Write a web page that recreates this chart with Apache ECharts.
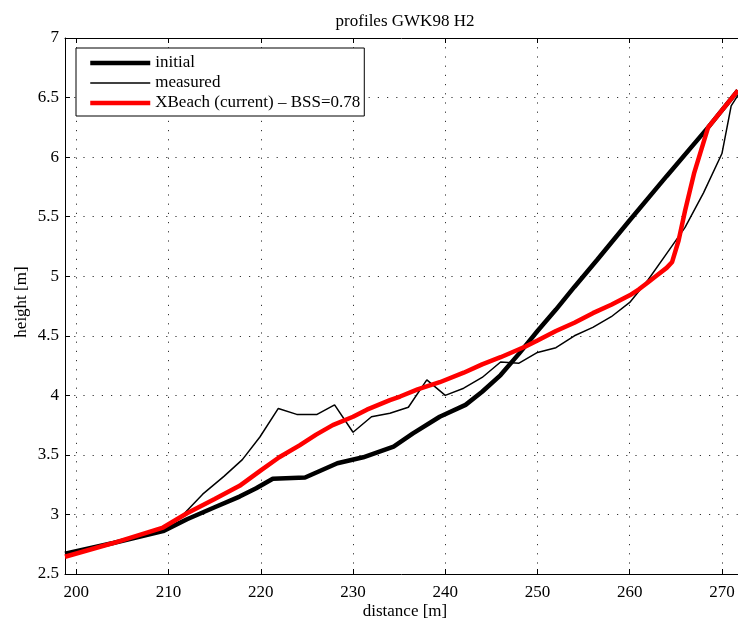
<!DOCTYPE html>
<html>
<head>
<meta charset="utf-8">
<script src="https://cdn.jsdelivr.net/npm/echarts@6/dist/echarts.min.js"></script>
<style>
  html, body { margin: 0; padding: 0; background: #fff; }
  #chart { width: 738px; height: 621px; }
</style>
</head>
<body>
<div id="chart"></div>
<script>
// Cross-shore profiles, GWK98 test H2
const seriesNames = ['initial', 'measured', 'XBeach (current) \u2013 BSS=0.78'];
const seriesWidths = [4.5, 1.5, 4.5];
const seriesColors = ['#000', '#000', '#ff0000'];
const xTitle = 'distance [m]';
const yTitle = 'height [m]';

const initialDist = [198.77, 204, 209.4, 212, 215, 217.7, 219.5, 221.3, 224.8, 228.3, 231.1, 234.4, 236.5, 239.4, 242.2, 244, 246, 248, 250, 252, 254, 256.5, 260, 264, 268.5, 271.74];
const initialHeight = [2.67, 2.76, 2.86, 2.96, 3.06, 3.15, 3.22, 3.30, 3.31, 3.43, 3.48, 3.57, 3.68, 3.82, 3.92, 4.03, 4.17, 4.35, 4.54, 4.72, 4.91, 5.14, 5.47, 5.84, 6.25, 6.56];

const measuredDist = [198.77, 204, 209.4, 211.6, 213.7, 216, 218, 219.9, 221.9, 223.9, 226.1, 228, 230, 232, 234, 236, 238, 240, 242, 244, 246, 248, 250, 252, 254, 256, 258, 260, 262, 264, 266, 268, 270, 271, 271.74];
const measuredHeight = [2.66, 2.76, 2.87, 3.00, 3.17, 3.32, 3.46, 3.65, 3.89, 3.84, 3.84, 3.92, 3.69, 3.82, 3.85, 3.90, 4.13, 4.00, 4.06, 4.15, 4.28, 4.27, 4.36, 4.40, 4.50, 4.57, 4.66, 4.78, 4.97, 5.19, 5.41, 5.70, 6.03, 6.43, 6.52];

const xbeachDist = [198.77, 204, 209.4, 212, 215, 217.7, 220, 222, 224.2, 226, 227.8, 230, 231.5, 234, 235.1, 237, 239.4, 242, 244, 246, 248.7, 250, 252, 254, 256, 258, 260, 261, 262, 263, 264, 264.6, 265.3, 266, 267, 268.5, 271.74];
const xbeachHeight = [2.645, 2.76, 2.89, 3.01, 3.13, 3.24, 3.37, 3.48, 3.58, 3.67, 3.75, 3.82, 3.88, 3.96, 3.99, 4.05, 4.11, 4.19, 4.26, 4.32, 4.41, 4.46, 4.54, 4.61, 4.69, 4.76, 4.84, 4.89, 4.95, 5.01, 5.07, 5.12, 5.30, 5.55, 5.87, 6.25, 6.56];

const xMin = 198.77, xMax = 271.74;
const yMin = 2.5, yMax = 7, yStep = 0.5;

const pairs = (xs, ys) => xs.map((x, i) => [x, ys[i]]);
const profiles = [pairs(initialDist, initialHeight), pairs(measuredDist, measuredHeight), pairs(xbeachDist, xbeachHeight)];

const serif = 'Liberation Serif';
const dotted = { color: '#333', width: 1, type: [1.2, 8] };
const nameFont = { fontFamily: serif, fontSize: 17, fill: '#000', align: 'center', verticalAlign: 'middle' };

const chart = echarts.init(document.getElementById('chart'), null, { renderer: 'canvas' });
chart.setOption({
  animation: false,
  backgroundColor: '#fff',
  title: {
    text: 'profiles GWK98 H2',
    left: 400, top: 8, textAlign: 'center',
    textStyle: { fontFamily: serif, fontSize: 17, fontWeight: 'normal', color: '#000' }
  },
  // axis titles
  graphic: [
    { type: 'text', x: 405, y: 612, style: Object.assign({ text: xTitle }, nameFont) },
    { type: 'text', x: 22, y: 302, rotation: Math.PI / 2, style: Object.assign({ text: yTitle }, nameFont) }
  ],
  legend: {
    data: seriesNames.map((name, i) => ({
      name,
      lineStyle: { width: seriesWidths[i], color: seriesColors[i] }
    })),
    orient: 'vertical',
    left: 76, top: 48,
    padding: [6.5, 4, 4.5, 12],
    itemWidth: 60, itemHeight: 17, itemGap: 3,
    borderColor: '#000', borderWidth: 1,
    backgroundColor: '#fff',
    itemStyle: { opacity: 0, borderWidth: 0 },
    textStyle: { fontFamily: serif, fontSize: 17, color: '#000' }
  },
  grid: { left: 65, top: 38, right: 0, bottom: 47, containLabel: false, outerBoundsMode: 'none' },
  xAxis: [{
    type: 'value', min: xMin, max: xMax, splitNumber: 7,
    axisLine: { show: true, lineStyle: { color: '#000', width: 1 } },
    axisTick: { show: true, inside: true, length: 5, lineStyle: { color: '#000' } },
    axisLabel: { showMinLabel: false, showMaxLabel: false, margin: 10, fontFamily: serif, fontSize: 17, color: '#000' },
    splitLine: { show: true, lineStyle: dotted }
  }, {
    type: 'value', min: xMin, max: xMax, splitNumber: 7, position: 'top',
    axisLine: { show: true, lineStyle: { color: '#000', width: 1 } },
    axisTick: { show: true, inside: true, length: 5, lineStyle: { color: '#000' } },
    axisLabel: { show: false },
    splitLine: { show: false }
  }],
  yAxis: {
    type: 'value', min: yMin, max: yMax, interval: yStep,
    axisLine: { show: true, lineStyle: { color: '#000', width: 1 } },
    axisTick: { show: true, inside: true, length: 5, lineStyle: { color: '#000' } },
    axisLabel: { margin: 6, fontFamily: serif, fontSize: 17, color: '#000' },
    splitLine: { show: true, lineStyle: dotted }
  },
  series: seriesNames.map((name, i) => ({
    name, type: 'line', xAxisIndex: 0,
    data: profiles[i],
    symbol: 'none',
    lineStyle: { color: seriesColors[i], width: seriesWidths[i] },
    itemStyle: { color: seriesColors[i] }
  }))
});
</script>
</body>
</html>
